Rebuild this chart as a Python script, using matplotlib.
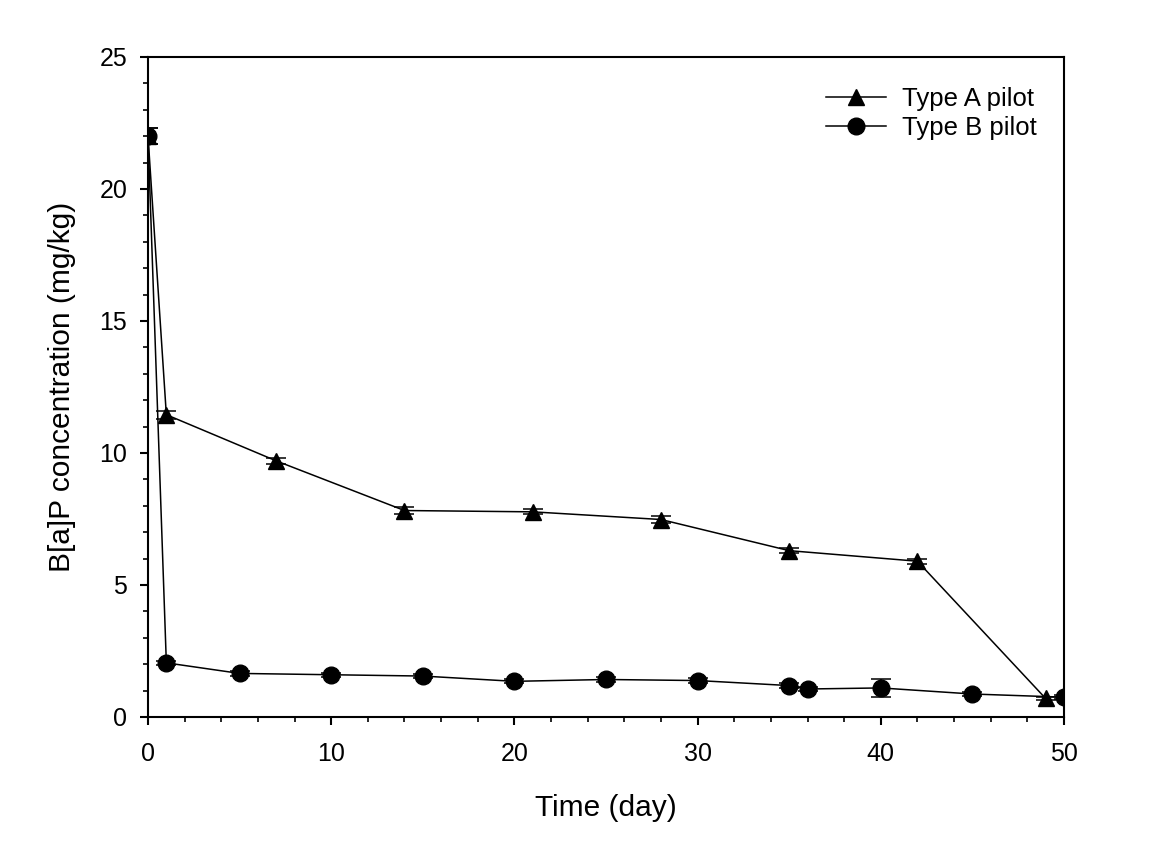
import matplotlib
matplotlib.use("Agg")
import matplotlib.pyplot as plt
from matplotlib.ticker import MultipleLocator

# --- Data ---
days_a = [0, 1, 7, 14, 21, 28, 35, 42, 49]
conc_a = [22.0, 11.45, 9.70, 7.82, 7.77, 7.48, 6.30, 5.90, 0.70]
err_a = [0.3, 0.15, 0.12, 0.12, 0.1, 0.12, 0.1, 0.1, 0.05]

days_b = [0, 1, 5, 10, 15, 20, 25, 30, 35, 36, 40, 45, 50]
conc_b = [22.0, 2.05, 1.65, 1.60, 1.55, 1.35, 1.42, 1.38, 1.19, 1.06, 1.10, 0.87, 0.75]
err_b = [0.3, 0.08, 0.08, 0.08, 0.08, 0.08, 0.08, 0.08, 0.08, 0.08, 0.34, 0.08, 0.08]

plt.rcParams['font.family'] = ['Liberation Sans', 'DejaVu Sans']

fig = plt.figure(figsize=(11.51, 8.44), dpi=100)
ax = fig.add_axes([0.1286, 0.1505, 0.7958, 0.782])

ax.errorbar(days_a, conc_a, yerr=err_a, color='black', marker='^', markersize=11,
            lw=1.1, elinewidth=1.1, capsize=7, capthick=1.1, label='Type A pilot')
ax.errorbar(days_b, conc_b, yerr=err_b, color='black', marker='o', markersize=12,
            lw=1.1, elinewidth=1.1, capsize=7, capthick=1.1, label='Type B pilot')

ax.set_xlim(0, 50)
ax.set_ylim(0, 25)
ax.xaxis.set_major_locator(MultipleLocator(10))
ax.xaxis.set_minor_locator(MultipleLocator(2))
ax.yaxis.set_major_locator(MultipleLocator(5))
ax.yaxis.set_minor_locator(MultipleLocator(1))
ax.tick_params(which='major', direction='out', length=6, width=1.5, labelsize=18)
ax.tick_params(axis='y', which='major', pad=9)
ax.tick_params(axis='x', which='major', pad=12)
ax.tick_params(which='minor', direction='out', length=3.5, width=1.2)
for s in ax.spines.values():
    s.set_linewidth(1.5)

ax.set_xlabel('Time (day)', fontsize=21.5, labelpad=20)
ax.set_ylabel('B[a]P concentration (mg/kg)', fontsize=21.5, labelpad=17)

handles, labels = ax.get_legend_handles_labels()
handles = [h[0] for h in handles]
ax.legend(handles, labels, loc='upper right', frameon=False, fontsize=18.5,
          handlelength=2.35, handletextpad=0.6, labelspacing=0.22,
          bbox_to_anchor=(0.995, 0.99))

fig.savefig('out.png', dpi=100)
